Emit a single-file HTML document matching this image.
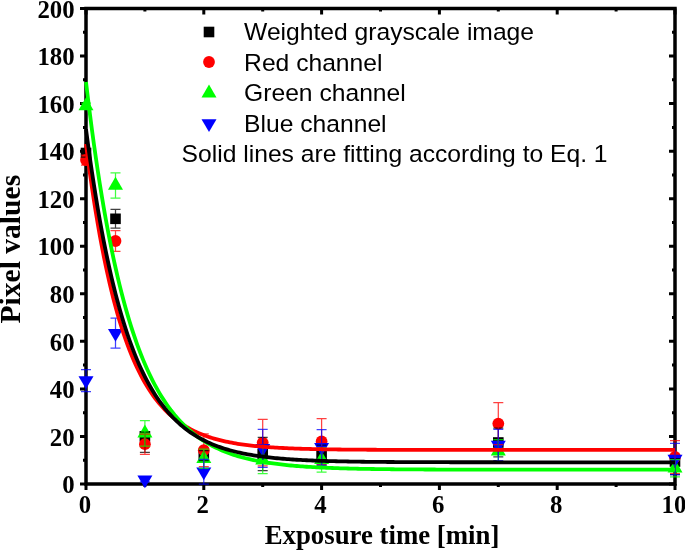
<!DOCTYPE html>
<html><head><meta charset="utf-8"><style>html,body{margin:0;padding:0;background:#fff;width:685px;height:550px;overflow:hidden}svg{display:block;will-change:transform}</style></head>
<body><svg width="685" height="550" viewBox="0 0 685 550"><rect x="86" y="8.5" width="589" height="475.5" fill="none" stroke="#000" stroke-width="3.5"/>
<path d="M80,484.00H86M675,484.00H669M83,460.23H86M675,460.23H672M80,436.45H86M675,436.45H669M83,412.68H86M675,412.68H672M80,388.90H86M675,388.90H669M83,365.12H86M675,365.12H672M80,341.35H86M675,341.35H669M83,317.58H86M675,317.58H672M80,293.80H86M675,293.80H669M83,270.02H86M675,270.02H672M80,246.25H86M675,246.25H669M83,222.48H86M675,222.48H672M80,198.70H86M675,198.70H669M83,174.93H86M675,174.93H672M80,151.15H86M675,151.15H669M83,127.38H86M675,127.38H672M80,103.60H86M675,103.60H669M83,79.82H86M675,79.82H672M80,56.05H86M675,56.05H669M83,32.28H86M675,32.28H672M80,8.50H86M675,8.50H669M86.00,484V490M86.00,8.5V14.5M144.90,484V487M144.90,8.5V11.5M203.80,484V490M203.80,8.5V14.5M262.70,484V487M262.70,8.5V11.5M321.60,484V490M321.60,8.5V14.5M380.50,484V487M380.50,8.5V11.5M439.40,484V490M439.40,8.5V14.5M498.30,484V487M498.30,8.5V11.5M557.20,484V490M557.20,8.5V14.5M616.10,484V487M616.10,8.5V11.5M675.00,484V490M675.00,8.5V14.5" stroke="#000" stroke-width="3" fill="none"/>
<rect x="80.7" y="147.7" width="10.6" height="10.6" fill="#000"/>
<rect x="110.2" y="213.5" width="10.6" height="10.6" fill="#000"/>
<rect x="139.6" y="431.0" width="10.6" height="10.6" fill="#000"/>
<rect x="198.5" y="450.2" width="10.6" height="10.6" fill="#000"/>
<rect x="257.4" y="448.6" width="10.6" height="10.6" fill="#000"/>
<rect x="316.3" y="449.9" width="10.6" height="10.6" fill="#000"/>
<rect x="493.0" y="437.2" width="10.6" height="10.6" fill="#000"/>
<rect x="669.7" y="456.2" width="10.6" height="10.6" fill="#000"/>
<circle cx="86.0" cy="160.0" r="5.9" fill="#ff0000"/>
<circle cx="115.5" cy="241.0" r="5.9" fill="#ff0000"/>
<circle cx="144.9" cy="444.2" r="5.9" fill="#ff0000"/>
<circle cx="203.8" cy="450.2" r="5.9" fill="#ff0000"/>
<circle cx="262.7" cy="442.6" r="5.9" fill="#ff0000"/>
<circle cx="321.6" cy="441.5" r="5.9" fill="#ff0000"/>
<circle cx="498.3" cy="423.6" r="5.9" fill="#ff0000"/>
<circle cx="675.0" cy="457.0" r="5.9" fill="#ff0000"/>
<path d="M86.0,97.3L93.5,110.3L78.5,110.3Z" fill="#00ff00"/>
<path d="M115.5,176.8L123.0,189.8L108.0,189.8Z" fill="#00ff00"/>
<path d="M144.9,424.6L152.4,437.6L137.4,437.6Z" fill="#00ff00"/>
<path d="M203.8,450.0L211.3,463.0L196.3,463.0Z" fill="#00ff00"/>
<path d="M262.7,451.6L270.2,464.6L255.2,464.6Z" fill="#00ff00"/>
<path d="M321.6,451.1L329.1,464.1L314.1,464.1Z" fill="#00ff00"/>
<path d="M498.3,442.5L505.8,455.5L490.8,455.5Z" fill="#00ff00"/>
<path d="M675.0,459.5L682.5,472.5L667.5,472.5Z" fill="#00ff00"/>
<path d="M78.5,376.3L93.5,376.3L86.0,389.1Z" fill="#0000ff"/>
<path d="M108.0,328.9L123.0,328.9L115.5,341.7Z" fill="#0000ff"/>
<path d="M137.4,475.5L152.4,475.5L144.9,488.3Z" fill="#0000ff"/>
<path d="M196.3,467.5L211.3,467.5L203.8,480.3Z" fill="#0000ff"/>
<path d="M255.2,444.1L270.2,444.1L262.7,456.9Z" fill="#0000ff"/>
<path d="M314.1,443.1L329.1,443.1L321.6,455.9Z" fill="#0000ff"/>
<path d="M490.8,440.7L505.8,440.7L498.3,453.5Z" fill="#0000ff"/>
<path d="M667.5,454.7L682.5,454.7L675.0,467.5Z" fill="#0000ff"/>
<path d="M86.0,149.0V157.0M81.0,149.0h10M81.0,157.0h10" stroke="#000" stroke-width="1.25" fill="none" opacity="0.75"/>
<path d="M115.5,209.4V228.2M110.5,209.4h10M110.5,228.2h10" stroke="#000" stroke-width="1.25" fill="none" opacity="0.75"/>
<path d="M144.9,432.2V452.3M139.9,432.2h10M139.9,452.3h10" stroke="#000" stroke-width="1.25" fill="none" opacity="0.75"/>
<path d="M203.8,450.5V460.5M198.8,450.5h10M198.8,460.5h10" stroke="#000" stroke-width="1.25" fill="none" opacity="0.75"/>
<path d="M262.7,437.3V470.5M257.7,437.3h10M257.7,470.5h10" stroke="#000" stroke-width="1.25" fill="none" opacity="0.75"/>
<path d="M321.6,445.2V465.2M316.6,445.2h10M316.6,465.2h10" stroke="#000" stroke-width="1.25" fill="none" opacity="0.75"/>
<path d="M498.3,428.2V456.8M493.3,428.2h10M493.3,456.8h10" stroke="#000" stroke-width="1.25" fill="none" opacity="0.75"/>
<path d="M675.0,458.5V474.7M670.0,458.5h10M670.0,474.7h10" stroke="#000" stroke-width="1.25" fill="none" opacity="0.75"/>
<path d="M86.0,155.0V165.0M81.0,155.0h10M81.0,165.0h10" stroke="#ff0000" stroke-width="1.25" fill="none" opacity="0.75"/>
<path d="M115.5,230.6V251.4M110.5,230.6h10M110.5,251.4h10" stroke="#ff0000" stroke-width="1.25" fill="none" opacity="0.75"/>
<path d="M144.9,434.0V454.4M139.9,434.0h10M139.9,454.4h10" stroke="#ff0000" stroke-width="1.25" fill="none" opacity="0.75"/>
<path d="M203.8,433.9V466.5M198.8,433.9h10M198.8,466.5h10" stroke="#ff0000" stroke-width="1.25" fill="none" opacity="0.75"/>
<path d="M262.7,419.4V465.8M257.7,419.4h10M257.7,465.8h10" stroke="#ff0000" stroke-width="1.25" fill="none" opacity="0.75"/>
<path d="M321.6,418.5V464.5M316.6,418.5h10M316.6,464.5h10" stroke="#ff0000" stroke-width="1.25" fill="none" opacity="0.75"/>
<path d="M498.3,402.6V444.6M493.3,402.6h10M493.3,444.6h10" stroke="#ff0000" stroke-width="1.25" fill="none" opacity="0.75"/>
<path d="M675.0,440.5V473.5M670.0,440.5h10M670.0,473.5h10" stroke="#ff0000" stroke-width="1.25" fill="none" opacity="0.75"/>
<path d="M86.0,103.0V109.0M81.0,103.0h10M81.0,109.0h10" stroke="#00ff00" stroke-width="1.25" fill="none" opacity="0.75"/>
<path d="M115.5,172.8V198.2M110.5,172.8h10M110.5,198.2h10" stroke="#00ff00" stroke-width="1.25" fill="none" opacity="0.75"/>
<path d="M144.9,420.5V446.1M139.9,420.5h10M139.9,446.1h10" stroke="#00ff00" stroke-width="1.25" fill="none" opacity="0.75"/>
<path d="M203.8,449.0V468.4M198.8,449.0h10M198.8,468.4h10" stroke="#00ff00" stroke-width="1.25" fill="none" opacity="0.75"/>
<path d="M262.7,447.1V473.5M257.7,447.1h10M257.7,473.5h10" stroke="#00ff00" stroke-width="1.25" fill="none" opacity="0.75"/>
<path d="M321.6,447.6V472.0M316.6,447.6h10M316.6,472.0h10" stroke="#00ff00" stroke-width="1.25" fill="none" opacity="0.75"/>
<path d="M498.3,439.5V462.9M493.3,439.5h10M493.3,462.9h10" stroke="#00ff00" stroke-width="1.25" fill="none" opacity="0.75"/>
<path d="M675.0,459.6V476.8M670.0,459.6h10M670.0,476.8h10" stroke="#00ff00" stroke-width="1.25" fill="none" opacity="0.75"/>
<path d="M86.0,369.5V391.7M81.0,369.5h10M81.0,391.7h10" stroke="#0000ff" stroke-width="1.25" fill="none" opacity="0.75"/>
<path d="M115.5,318.2V348.2M110.5,318.2h10M110.5,348.2h10" stroke="#0000ff" stroke-width="1.25" fill="none" opacity="0.75"/>
<path d="M144.9,477.8V481.8M139.9,477.8h10M139.9,481.8h10" stroke="#0000ff" stroke-width="1.25" fill="none" opacity="0.75"/>
<path d="M203.8,459.4V484.2M198.8,459.4h10M198.8,484.2h10" stroke="#0000ff" stroke-width="1.25" fill="none" opacity="0.75"/>
<path d="M262.7,429.4V467.4M257.7,429.4h10M257.7,467.4h10" stroke="#0000ff" stroke-width="1.25" fill="none" opacity="0.75"/>
<path d="M321.6,429.6V465.2M316.6,429.6h10M316.6,465.2h10" stroke="#0000ff" stroke-width="1.25" fill="none" opacity="0.75"/>
<path d="M498.3,429.4V460.6M493.3,429.4h10M493.3,460.6h10" stroke="#0000ff" stroke-width="1.25" fill="none" opacity="0.75"/>
<path d="M675.0,443.4V474.6M670.0,443.4h10M670.0,474.6h10" stroke="#0000ff" stroke-width="1.25" fill="none" opacity="0.75"/>
<path d="M86.00,144.05 L87.97,159.16 L89.94,173.52 L91.91,187.17 L93.88,200.15 L95.85,212.49 L97.82,224.22 L99.79,235.37 L101.76,245.97 L103.73,256.04 L105.70,265.62 L107.67,274.72 L109.64,283.38 L111.61,291.61 L113.58,299.43 L115.55,306.86 L117.52,313.93 L119.49,320.65 L121.46,327.03 L123.43,333.10 L125.40,338.88 L127.37,344.36 L129.34,349.58 L131.31,354.53 L133.28,359.25 L135.25,363.73 L137.22,367.99 L139.19,372.03 L141.16,375.88 L143.13,379.54 L145.10,383.02 L147.07,386.32 L149.04,389.47 L151.01,392.45 L152.98,395.29 L154.95,397.99 L156.92,400.56 L158.89,403.00 L160.86,405.32 L162.83,407.52 L164.80,409.62 L166.77,411.61 L168.74,413.50 L170.71,415.30 L172.68,417.02 L174.65,418.64 L176.62,420.19 L178.59,421.66 L180.56,423.06 L182.53,424.38 L184.49,425.65 L186.46,426.85 L188.43,427.99 L190.40,429.07 L192.37,430.10 L194.34,431.08 L196.31,432.02 L198.28,432.90 L200.25,433.74 L202.22,434.54 L204.19,435.31 L206.16,436.03 L208.13,436.72 L210.10,437.37 L212.07,437.99 L214.04,438.58 L216.01,439.14 L217.98,439.68 L219.95,440.18 L221.92,440.67 L223.89,441.13 L225.86,441.56 L227.83,441.98 L229.80,442.37 L231.77,442.74 L233.74,443.10 L235.71,443.44 L237.68,443.76 L239.65,444.07 L241.62,444.36 L243.59,444.63 L245.56,444.90 L247.53,445.14 L249.50,445.38 L251.47,445.61 L253.44,445.82 L255.41,446.03 L257.38,446.22 L259.35,446.40 L261.32,446.58 L263.29,446.75 L265.26,446.90 L267.23,447.05 L269.20,447.20 L271.17,447.33 L273.14,447.46 L275.11,447.59 L277.08,447.70 L279.05,447.81 L281.02,447.92 L282.99,448.02 L284.96,448.11 L286.93,448.21 L288.90,448.29 L290.87,448.37 L292.84,448.45 L294.81,448.53 L296.78,448.60 L298.75,448.66 L300.72,448.73 L302.69,448.79 L304.66,448.84 L306.63,448.90 L308.60,448.95 L310.57,449.00 L312.54,449.05 L314.51,449.09 L316.48,449.13 L318.45,449.17 L320.42,449.21 L322.39,449.25 L324.36,449.28 L326.33,449.32 L328.30,449.35 L330.27,449.38 L332.24,449.41 L334.21,449.43 L336.18,449.46 L338.15,449.48 L340.12,449.51 L342.09,449.53 L344.06,449.55 L346.03,449.57 L348.00,449.59 L349.97,449.61 L351.94,449.62 L353.91,449.64 L355.88,449.65 L357.85,449.67 L359.82,449.68 L361.79,449.70 L363.76,449.71 L365.73,449.72 L367.70,449.73 L369.67,449.74 L371.64,449.75 L373.61,449.76 L375.58,449.77 L377.55,449.78 L379.52,449.79 L381.48,449.80 L383.45,449.80 L385.42,449.81 L387.39,449.82 L389.36,449.82 L391.33,449.83 L393.30,449.84 L395.27,449.84 L397.24,449.85 L399.21,449.85 L401.18,449.86 L403.15,449.86 L405.12,449.87 L407.09,449.87 L409.06,449.87 L411.03,449.88 L413.00,449.88 L414.97,449.89 L416.94,449.89 L418.91,449.89 L420.88,449.89 L422.85,449.90 L424.82,449.90 L426.79,449.90 L428.76,449.90 L430.73,449.91 L432.70,449.91 L434.67,449.91 L436.64,449.91 L438.61,449.91 L440.58,449.92 L442.55,449.92 L444.52,449.92 L446.49,449.92 L448.46,449.92 L450.43,449.92 L452.40,449.93 L454.37,449.93 L456.34,449.93 L458.31,449.93 L460.28,449.93 L462.25,449.93 L464.22,449.93 L466.19,449.93 L468.16,449.93 L470.13,449.93 L472.10,449.94 L474.07,449.94 L476.04,449.94 L478.01,449.94 L479.98,449.94 L481.95,449.94 L483.92,449.94 L485.89,449.94 L487.86,449.94 L489.83,449.94 L491.80,449.94 L493.77,449.94 L495.74,449.94 L497.71,449.94 L499.68,449.94 L501.65,449.94 L503.62,449.94 L505.59,449.94 L507.56,449.94 L509.53,449.94 L511.50,449.94 L513.47,449.94 L515.44,449.95 L517.41,449.95 L519.38,449.95 L521.35,449.95 L523.32,449.95 L525.29,449.95 L527.26,449.95 L529.23,449.95 L531.20,449.95 L533.17,449.95 L535.14,449.95 L537.11,449.95 L539.08,449.95 L541.05,449.95 L543.02,449.95 L544.99,449.95 L546.96,449.95 L548.93,449.95 L550.90,449.95 L552.87,449.95 L554.84,449.95 L556.81,449.95 L558.78,449.95 L560.75,449.95 L562.72,449.95 L564.69,449.95 L566.66,449.95 L568.63,449.95 L570.60,449.95 L572.57,449.95 L574.54,449.95 L576.51,449.95 L578.47,449.95 L580.44,449.95 L582.41,449.95 L584.38,449.95 L586.35,449.95 L588.32,449.95 L590.29,449.95 L592.26,449.95 L594.23,449.95 L596.20,449.95 L598.17,449.95 L600.14,449.95 L602.11,449.95 L604.08,449.95 L606.05,449.95 L608.02,449.95 L609.99,449.95 L611.96,449.95 L613.93,449.95 L615.90,449.95 L617.87,449.95 L619.84,449.95 L621.81,449.95 L623.78,449.95 L625.75,449.95 L627.72,449.95 L629.69,449.95 L631.66,449.95 L633.63,449.95 L635.60,449.95 L637.57,449.95 L639.54,449.95 L641.51,449.95 L643.48,449.95 L645.45,449.95 L647.42,449.95 L649.39,449.95 L651.36,449.95 L653.33,449.95 L655.30,449.95 L657.27,449.95 L659.24,449.95 L661.21,449.95 L663.18,449.95 L665.15,449.95 L667.12,449.95 L669.09,449.95 L671.06,449.95 L673.03,449.95 L675.00,449.95" stroke="#ff0000" stroke-width="3.8" fill="none"/>
<path d="M86.00,82.00 L87.97,98.50 L89.94,114.29 L91.91,129.42 L93.88,143.90 L95.85,157.76 L97.82,171.04 L99.79,183.75 L101.76,195.91 L103.73,207.56 L105.70,218.72 L107.67,229.40 L109.64,239.63 L111.61,249.42 L113.58,258.79 L115.55,267.76 L117.52,276.36 L119.49,284.59 L121.46,292.46 L123.43,300.00 L125.40,307.23 L127.37,314.14 L129.34,320.76 L131.31,327.10 L133.28,333.17 L135.25,338.98 L137.22,344.54 L139.19,349.86 L141.16,354.96 L143.13,359.85 L145.10,364.52 L147.07,369.00 L149.04,373.28 L151.01,377.39 L152.98,381.31 L154.95,385.07 L156.92,388.68 L158.89,392.12 L160.86,395.42 L162.83,398.59 L164.80,401.61 L166.77,404.51 L168.74,407.28 L170.71,409.94 L172.68,412.48 L174.65,414.92 L176.62,417.25 L178.59,419.48 L180.56,421.62 L182.53,423.66 L184.49,425.62 L186.46,427.50 L188.43,429.29 L190.40,431.01 L192.37,432.66 L194.34,434.24 L196.31,435.75 L198.28,437.19 L200.25,438.57 L202.22,439.90 L204.19,441.17 L206.16,442.38 L208.13,443.54 L210.10,444.66 L212.07,445.72 L214.04,446.74 L216.01,447.72 L217.98,448.65 L219.95,449.55 L221.92,450.41 L223.89,451.23 L225.86,452.01 L227.83,452.77 L229.80,453.49 L231.77,454.18 L233.74,454.84 L235.71,455.47 L237.68,456.08 L239.65,456.66 L241.62,457.21 L243.59,457.74 L245.56,458.25 L247.53,458.74 L249.50,459.20 L251.47,459.65 L253.44,460.08 L255.41,460.49 L257.38,460.88 L259.35,461.26 L261.32,461.62 L263.29,461.96 L265.26,462.29 L267.23,462.60 L269.20,462.91 L271.17,463.19 L273.14,463.47 L275.11,463.74 L277.08,463.99 L279.05,464.23 L281.02,464.47 L282.99,464.69 L284.96,464.90 L286.93,465.11 L288.90,465.30 L290.87,465.49 L292.84,465.67 L294.81,465.84 L296.78,466.00 L298.75,466.16 L300.72,466.31 L302.69,466.46 L304.66,466.59 L306.63,466.73 L308.60,466.85 L310.57,466.97 L312.54,467.09 L314.51,467.20 L316.48,467.31 L318.45,467.41 L320.42,467.51 L322.39,467.60 L324.36,467.69 L326.33,467.77 L328.30,467.86 L330.27,467.94 L332.24,468.01 L334.21,468.08 L336.18,468.15 L338.15,468.22 L340.12,468.28 L342.09,468.34 L344.06,468.40 L346.03,468.45 L348.00,468.51 L349.97,468.56 L351.94,468.61 L353.91,468.65 L355.88,468.70 L357.85,468.74 L359.82,468.78 L361.79,468.82 L363.76,468.86 L365.73,468.89 L367.70,468.93 L369.67,468.96 L371.64,468.99 L373.61,469.02 L375.58,469.05 L377.55,469.08 L379.52,469.10 L381.48,469.13 L383.45,469.15 L385.42,469.18 L387.39,469.20 L389.36,469.22 L391.33,469.24 L393.30,469.26 L395.27,469.28 L397.24,469.30 L399.21,469.31 L401.18,469.33 L403.15,469.35 L405.12,469.36 L407.09,469.38 L409.06,469.39 L411.03,469.40 L413.00,469.42 L414.97,469.43 L416.94,469.44 L418.91,469.45 L420.88,469.46 L422.85,469.47 L424.82,469.48 L426.79,469.49 L428.76,469.50 L430.73,469.51 L432.70,469.52 L434.67,469.52 L436.64,469.53 L438.61,469.54 L440.58,469.55 L442.55,469.55 L444.52,469.56 L446.49,469.56 L448.46,469.57 L450.43,469.58 L452.40,469.58 L454.37,469.59 L456.34,469.59 L458.31,469.60 L460.28,469.60 L462.25,469.60 L464.22,469.61 L466.19,469.61 L468.16,469.62 L470.13,469.62 L472.10,469.62 L474.07,469.63 L476.04,469.63 L478.01,469.63 L479.98,469.64 L481.95,469.64 L483.92,469.64 L485.89,469.64 L487.86,469.65 L489.83,469.65 L491.80,469.65 L493.77,469.65 L495.74,469.65 L497.71,469.66 L499.68,469.66 L501.65,469.66 L503.62,469.66 L505.59,469.66 L507.56,469.66 L509.53,469.67 L511.50,469.67 L513.47,469.67 L515.44,469.67 L517.41,469.67 L519.38,469.67 L521.35,469.67 L523.32,469.68 L525.29,469.68 L527.26,469.68 L529.23,469.68 L531.20,469.68 L533.17,469.68 L535.14,469.68 L537.11,469.68 L539.08,469.68 L541.05,469.68 L543.02,469.68 L544.99,469.68 L546.96,469.69 L548.93,469.69 L550.90,469.69 L552.87,469.69 L554.84,469.69 L556.81,469.69 L558.78,469.69 L560.75,469.69 L562.72,469.69 L564.69,469.69 L566.66,469.69 L568.63,469.69 L570.60,469.69 L572.57,469.69 L574.54,469.69 L576.51,469.69 L578.47,469.69 L580.44,469.69 L582.41,469.69 L584.38,469.69 L586.35,469.69 L588.32,469.69 L590.29,469.69 L592.26,469.69 L594.23,469.69 L596.20,469.70 L598.17,469.70 L600.14,469.70 L602.11,469.70 L604.08,469.70 L606.05,469.70 L608.02,469.70 L609.99,469.70 L611.96,469.70 L613.93,469.70 L615.90,469.70 L617.87,469.70 L619.84,469.70 L621.81,469.70 L623.78,469.70 L625.75,469.70 L627.72,469.70 L629.69,469.70 L631.66,469.70 L633.63,469.70 L635.60,469.70 L637.57,469.70 L639.54,469.70 L641.51,469.70 L643.48,469.70 L645.45,469.70 L647.42,469.70 L649.39,469.70 L651.36,469.70 L653.33,469.70 L655.30,469.70 L657.27,469.70 L659.24,469.70 L661.21,469.70 L663.18,469.70 L665.15,469.70 L667.12,469.70 L669.09,469.70 L671.06,469.70 L673.03,469.70 L675.00,469.70" stroke="#00ff00" stroke-width="3.8" fill="none"/>
<path d="M86.00,129.20 L87.97,144.00 L89.94,158.14 L91.91,171.66 L93.88,184.57 L95.85,196.92 L97.82,208.71 L99.79,219.98 L101.76,230.74 L103.73,241.03 L105.70,250.86 L107.67,260.26 L109.64,269.24 L111.61,277.82 L113.58,286.01 L115.55,293.85 L117.52,301.33 L119.49,308.48 L121.46,315.32 L123.43,321.85 L125.40,328.09 L127.37,334.05 L129.34,339.75 L131.31,345.20 L133.28,350.40 L135.25,355.37 L137.22,360.13 L139.19,364.67 L141.16,369.00 L143.13,373.15 L145.10,377.11 L147.07,380.90 L149.04,384.51 L151.01,387.97 L152.98,391.27 L154.95,394.43 L156.92,397.44 L158.89,400.33 L160.86,403.08 L162.83,405.71 L164.80,408.23 L166.77,410.63 L168.74,412.92 L170.71,415.12 L172.68,417.22 L174.65,419.22 L176.62,421.13 L178.59,422.96 L180.56,424.71 L182.53,426.38 L184.49,427.98 L186.46,429.50 L188.43,430.96 L190.40,432.35 L192.37,433.68 L194.34,434.95 L196.31,436.17 L198.28,437.33 L200.25,438.44 L202.22,439.50 L204.19,440.51 L206.16,441.48 L208.13,442.41 L210.10,443.29 L212.07,444.13 L214.04,444.94 L216.01,445.71 L217.98,446.45 L219.95,447.15 L221.92,447.83 L223.89,448.47 L225.86,449.09 L227.83,449.67 L229.80,450.23 L231.77,450.77 L233.74,451.28 L235.71,451.77 L237.68,452.24 L239.65,452.69 L241.62,453.11 L243.59,453.52 L245.56,453.91 L247.53,454.28 L249.50,454.64 L251.47,454.98 L253.44,455.31 L255.41,455.62 L257.38,455.91 L259.35,456.20 L261.32,456.47 L263.29,456.73 L265.26,456.98 L267.23,457.21 L269.20,457.44 L271.17,457.65 L273.14,457.86 L275.11,458.06 L277.08,458.25 L279.05,458.43 L281.02,458.60 L282.99,458.76 L284.96,458.92 L286.93,459.07 L288.90,459.21 L290.87,459.35 L292.84,459.48 L294.81,459.61 L296.78,459.73 L298.75,459.84 L300.72,459.95 L302.69,460.06 L304.66,460.15 L306.63,460.25 L308.60,460.34 L310.57,460.43 L312.54,460.51 L314.51,460.59 L316.48,460.67 L318.45,460.74 L320.42,460.81 L322.39,460.87 L324.36,460.94 L326.33,461.00 L328.30,461.06 L330.27,461.11 L332.24,461.16 L334.21,461.22 L336.18,461.26 L338.15,461.31 L340.12,461.35 L342.09,461.40 L344.06,461.44 L346.03,461.47 L348.00,461.51 L349.97,461.55 L351.94,461.58 L353.91,461.61 L355.88,461.64 L357.85,461.67 L359.82,461.70 L361.79,461.73 L363.76,461.75 L365.73,461.78 L367.70,461.80 L369.67,461.82 L371.64,461.84 L373.61,461.86 L375.58,461.88 L377.55,461.90 L379.52,461.92 L381.48,461.94 L383.45,461.95 L385.42,461.97 L387.39,461.98 L389.36,462.00 L391.33,462.01 L393.30,462.02 L395.27,462.03 L397.24,462.05 L399.21,462.06 L401.18,462.07 L403.15,462.08 L405.12,462.09 L407.09,462.10 L409.06,462.11 L411.03,462.12 L413.00,462.12 L414.97,462.13 L416.94,462.14 L418.91,462.15 L420.88,462.15 L422.85,462.16 L424.82,462.17 L426.79,462.17 L428.76,462.18 L430.73,462.18 L432.70,462.19 L434.67,462.19 L436.64,462.20 L438.61,462.20 L440.58,462.21 L442.55,462.21 L444.52,462.21 L446.49,462.22 L448.46,462.22 L450.43,462.23 L452.40,462.23 L454.37,462.23 L456.34,462.24 L458.31,462.24 L460.28,462.24 L462.25,462.24 L464.22,462.25 L466.19,462.25 L468.16,462.25 L470.13,462.25 L472.10,462.25 L474.07,462.26 L476.04,462.26 L478.01,462.26 L479.98,462.26 L481.95,462.26 L483.92,462.27 L485.89,462.27 L487.86,462.27 L489.83,462.27 L491.80,462.27 L493.77,462.27 L495.74,462.27 L497.71,462.28 L499.68,462.28 L501.65,462.28 L503.62,462.28 L505.59,462.28 L507.56,462.28 L509.53,462.28 L511.50,462.28 L513.47,462.28 L515.44,462.28 L517.41,462.28 L519.38,462.28 L521.35,462.29 L523.32,462.29 L525.29,462.29 L527.26,462.29 L529.23,462.29 L531.20,462.29 L533.17,462.29 L535.14,462.29 L537.11,462.29 L539.08,462.29 L541.05,462.29 L543.02,462.29 L544.99,462.29 L546.96,462.29 L548.93,462.29 L550.90,462.29 L552.87,462.29 L554.84,462.29 L556.81,462.29 L558.78,462.29 L560.75,462.29 L562.72,462.29 L564.69,462.29 L566.66,462.29 L568.63,462.30 L570.60,462.30 L572.57,462.30 L574.54,462.30 L576.51,462.30 L578.47,462.30 L580.44,462.30 L582.41,462.30 L584.38,462.30 L586.35,462.30 L588.32,462.30 L590.29,462.30 L592.26,462.30 L594.23,462.30 L596.20,462.30 L598.17,462.30 L600.14,462.30 L602.11,462.30 L604.08,462.30 L606.05,462.30 L608.02,462.30 L609.99,462.30 L611.96,462.30 L613.93,462.30 L615.90,462.30 L617.87,462.30 L619.84,462.30 L621.81,462.30 L623.78,462.30 L625.75,462.30 L627.72,462.30 L629.69,462.30 L631.66,462.30 L633.63,462.30 L635.60,462.30 L637.57,462.30 L639.54,462.30 L641.51,462.30 L643.48,462.30 L645.45,462.30 L647.42,462.30 L649.39,462.30 L651.36,462.30 L653.33,462.30 L655.30,462.30 L657.27,462.30 L659.24,462.30 L661.21,462.30 L663.18,462.30 L665.15,462.30 L667.12,462.30 L669.09,462.30 L671.06,462.30 L673.03,462.30 L675.00,462.30" stroke="#000000" stroke-width="3.8" fill="none"/>
<g font-family="Liberation Serif, serif" font-weight="bold" font-size="24.8"><text x="74.6" y="493.1" text-anchor="end">0</text><text x="74.6" y="445.6" text-anchor="end">20</text><text x="74.6" y="398.0" text-anchor="end">40</text><text x="74.6" y="350.5" text-anchor="end">60</text><text x="74.6" y="302.9" text-anchor="end">80</text><text x="74.6" y="255.3" text-anchor="end">100</text><text x="74.6" y="207.8" text-anchor="end">120</text><text x="74.6" y="160.3" text-anchor="end">140</text><text x="74.6" y="112.7" text-anchor="end">160</text><text x="74.6" y="65.2" text-anchor="end">180</text><text x="74.6" y="17.6" text-anchor="end">200</text><text x="84.9" y="513.4" text-anchor="middle">0</text><text x="202.7" y="513.4" text-anchor="middle">2</text><text x="320.5" y="513.4" text-anchor="middle">4</text><text x="438.3" y="513.4" text-anchor="middle">6</text><text x="556.1" y="513.4" text-anchor="middle">8</text><text x="673.9" y="513.4" text-anchor="middle">10</text></g>
<text x="382" y="544" text-anchor="middle" font-family="Liberation Serif, serif" font-weight="bold" font-size="26.8">Exposure time [min]</text>
<text transform="translate(19.6,249.2) rotate(-90)" text-anchor="middle" font-family="Liberation Serif, serif" font-weight="bold" font-size="29.6">Pixel values</text>
<rect x="203.7" y="26.7" width="10.6" height="10.6" fill="#000"/><circle cx="209.0" cy="62.0" r="5.9" fill="#ff0000"/><path d="M209.0,84.5L216.5,97.5L201.5,97.5Z" fill="#00ff00"/><path d="M201.5,119.2L216.5,119.2L209.0,132.0Z" fill="#0000ff"/>
<g font-family="Liberation Sans, sans-serif" font-size="24.65"><text x="244.1" y="40.4">Weighted grayscale image</text><text x="244.1" y="70.8">Red channel</text><text x="244.1" y="101.2">Green channel</text><text x="244.1" y="131.6">Blue channel</text><text x="181.6" y="162.3">Solid lines are fitting according to Eq. 1</text></g></svg></body></html>
